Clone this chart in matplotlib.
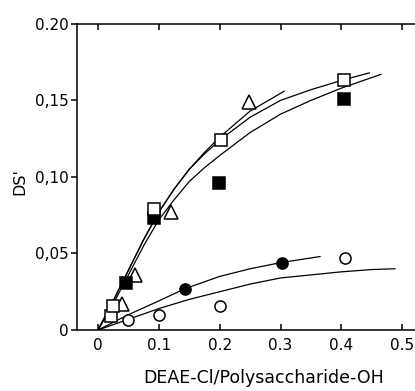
import matplotlib
matplotlib.use("Agg")
import matplotlib.pyplot as plt

# ============================================================
# Data
# ============================================================
open_sq_x = [0.021, 0.025, 0.092, 0.202, 0.405]
open_sq_y = [0.009, 0.016, 0.079, 0.124, 0.163]

fill_sq_x = [0.046, 0.092, 0.199, 0.405]
fill_sq_y = [0.031, 0.073, 0.096, 0.151]

tri_x = [0.039, 0.061, 0.120, 0.248]
tri_y = [0.017, 0.036, 0.077, 0.149]

fill_circ_x = [0.143, 0.302]
fill_circ_y = [0.027, 0.044]

open_circ_x = [0.049, 0.100, 0.200, 0.406]
open_circ_y = [0.0065, 0.010, 0.016, 0.047]

# fitted curves, traced point by point
tri_curve_x = [0, 0.025, 0.05, 0.075, 0.1, 0.125, 0.15, 0.175, 0.2, 0.25, 0.306]
tri_curve_y = [0, 0.019, 0.039, 0.059, 0.077, 0.092, 0.105, 0.116, 0.126, 0.143, 0.156]

open_sq_curve_x = [0, 0.025, 0.05, 0.075, 0.1, 0.125, 0.15, 0.175, 0.2, 0.25, 0.3, 0.35, 0.4, 0.446]
open_sq_curve_y = [0, 0.019, 0.039, 0.059, 0.077, 0.092, 0.105, 0.115, 0.124, 0.139, 0.150, 0.157, 0.163, 0.168]

fill_sq_curve_x = [0, 0.025, 0.05, 0.075, 0.1, 0.125, 0.15, 0.175, 0.2, 0.25, 0.3, 0.35, 0.4, 0.465]
fill_sq_curve_y = [0, 0.017, 0.036, 0.055, 0.072, 0.085, 0.097, 0.106, 0.114, 0.129, 0.141, 0.150, 0.158, 0.167]

fill_circ_curve_x = [0, 0.05, 0.1, 0.143, 0.2, 0.25, 0.3, 0.365]
fill_circ_curve_y = [0, 0.010, 0.019, 0.027, 0.035, 0.040, 0.044, 0.048]

open_circ_curve_x = [0, 0.05, 0.1, 0.15, 0.2, 0.25, 0.3, 0.35, 0.4, 0.45, 0.488]
open_circ_curve_y = [0, 0.007, 0.014, 0.020, 0.025, 0.030, 0.034, 0.036, 0.038, 0.0395, 0.040]

x_ticks = [0, 0.1, 0.2, 0.3, 0.4, 0.5]
x_tick_labels = ["0", "0.1", "0.2", "0.3", "0.4", "0.5"]
y_ticks = [0, 0.05, 0.10, 0.15, 0.20]
y_tick_labels = ["0", "0,05", "0,10", "0,15", "0.20"]

# ============================================================
# Plot
# ============================================================
fig = plt.figure(figsize=(4.15, 3.91), dpi=100)
ax = fig.add_axes([0.1855, 0.156, 0.8145, 0.783])

line_kw = dict(color="black", linewidth=0.9, zorder=2)
for cx, cy in [
    (tri_curve_x, tri_curve_y),
    (open_sq_curve_x, open_sq_curve_y),
    (fill_sq_curve_x, fill_sq_curve_y),
    (fill_circ_curve_x, fill_circ_curve_y),
    (open_circ_curve_x, open_circ_curve_y),
]:
    ax.plot(cx, cy, **line_kw)

mk = dict(linestyle="none", markeredgecolor="black", markeredgewidth=1.1, zorder=3)
ax.plot(tri_x, tri_y, marker="^", markersize=9.5, markerfacecolor="white", **mk)
ax.plot(fill_sq_x, fill_sq_y, marker="s", markersize=8.5, markerfacecolor="black", **mk)
ax.plot(open_sq_x, open_sq_y, marker="s", markersize=8.5, markerfacecolor="white", **mk)
ax.plot(fill_circ_x, fill_circ_y, marker="o", markersize=8, markerfacecolor="black", **mk)
ax.plot(open_circ_x, open_circ_y, marker="o", markersize=8, markerfacecolor="white", **mk)

ax.set_xlim(-0.0345, 0.521)
ax.set_ylim(0, 0.2)

ax.spines["right"].set_visible(False)
for side in ["left", "bottom", "top"]:
    ax.spines[side].set_linewidth(1.1)

ax.set_xticks(x_ticks)
ax.set_xticklabels(x_tick_labels, fontsize=11)
ax.set_yticks(y_ticks)
ax.set_yticklabels(y_tick_labels, fontsize=11)
ax.tick_params(axis="x", direction="in", top=True, length=4, width=1.1, pad=6)
ax.tick_params(axis="y", direction="out", length=4, width=1.1, pad=2)

ax.set_xlabel("DEAE-Cl/Polysaccharide-OH", fontsize=12.5, va="center")
ax.xaxis.set_label_coords(0.553, -0.157)
ax.set_ylabel("DS'", fontsize=11.5, va="center")
ax.yaxis.set_label_coords(-0.169, 0.484)

fig.savefig("out.png", dpi=100)
plt.close(fig)
